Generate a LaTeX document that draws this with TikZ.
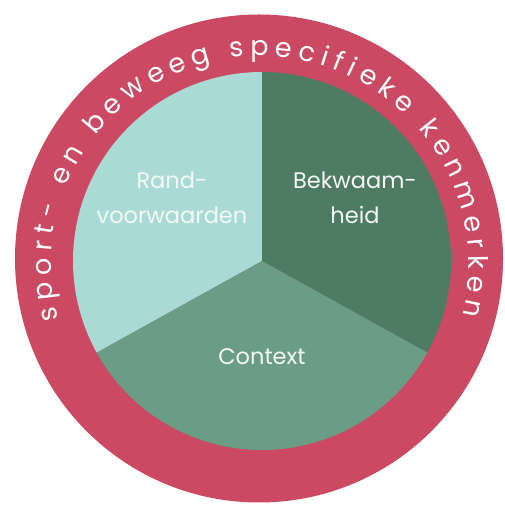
\documentclass[tikz,border=0pt]{standalone}
\usepackage{fontspec}
\setmainfont{Poppins}
\usetikzlibrary{decorations.text}
\definecolor{ringred}{RGB}{203,73,99}
\definecolor{lightteal}{RGB}{170,218,213}
\definecolor{darkgreen}{RGB}{78,124,98}
\definecolor{midgreen}{RGB}{106,156,134}
\definecolor{labelwhite}{RGB}{244,248,246}
\newcommand{\ringfont}{\fontsize{27}{27}\selectfont}
\tikzset{
  sector/.style={draw=none},
  label text/.style={text=labelwhite, font=\fontsize{22.5}{35}\selectfont, align=center, inner sep=0pt},
}
\begin{document}
\begin{tikzpicture}[x=1pt,y=1pt]
\useasboundingbox (0,0) rectangle (504,505);
\fill[white] (0,0) rectangle (504,505);
% outer ring
\fill[ringred] (259,246.5) circle[radius=244];
% pie sectors
\coordinate (pc) at (262,244);
\fill[lightteal,sector] (pc) -- ++(90:189) arc[start angle=90, end angle=209, radius=189] -- cycle;
\fill[darkgreen,sector] (pc) -- ++(-29:189) arc[start angle=-29, end angle=90, radius=189] -- cycle;
\fill[midgreen,sector] (pc) -- ++(209:189) arc[start angle=209, end angle=331, radius=189] -- cycle;
% labels
\node[label text] (rand) at (172,307.5) {Rand-\\voorwaarden};
\node[label text] (bekw) at (355,307.5) {Bekwaam-\\heid};
\node[label text] (ctx) at (262,148) {Context};
% ring text
\path[decorate, decoration={text along path, text align=fit to path,
  text={|\color{white}\ringfont|sport- en beweeg specifieke kenmerken}}]
  (260,240) ++(195:209) arc[start angle=195, end angle=-14, radius=209];
\end{tikzpicture}
\end{document}
